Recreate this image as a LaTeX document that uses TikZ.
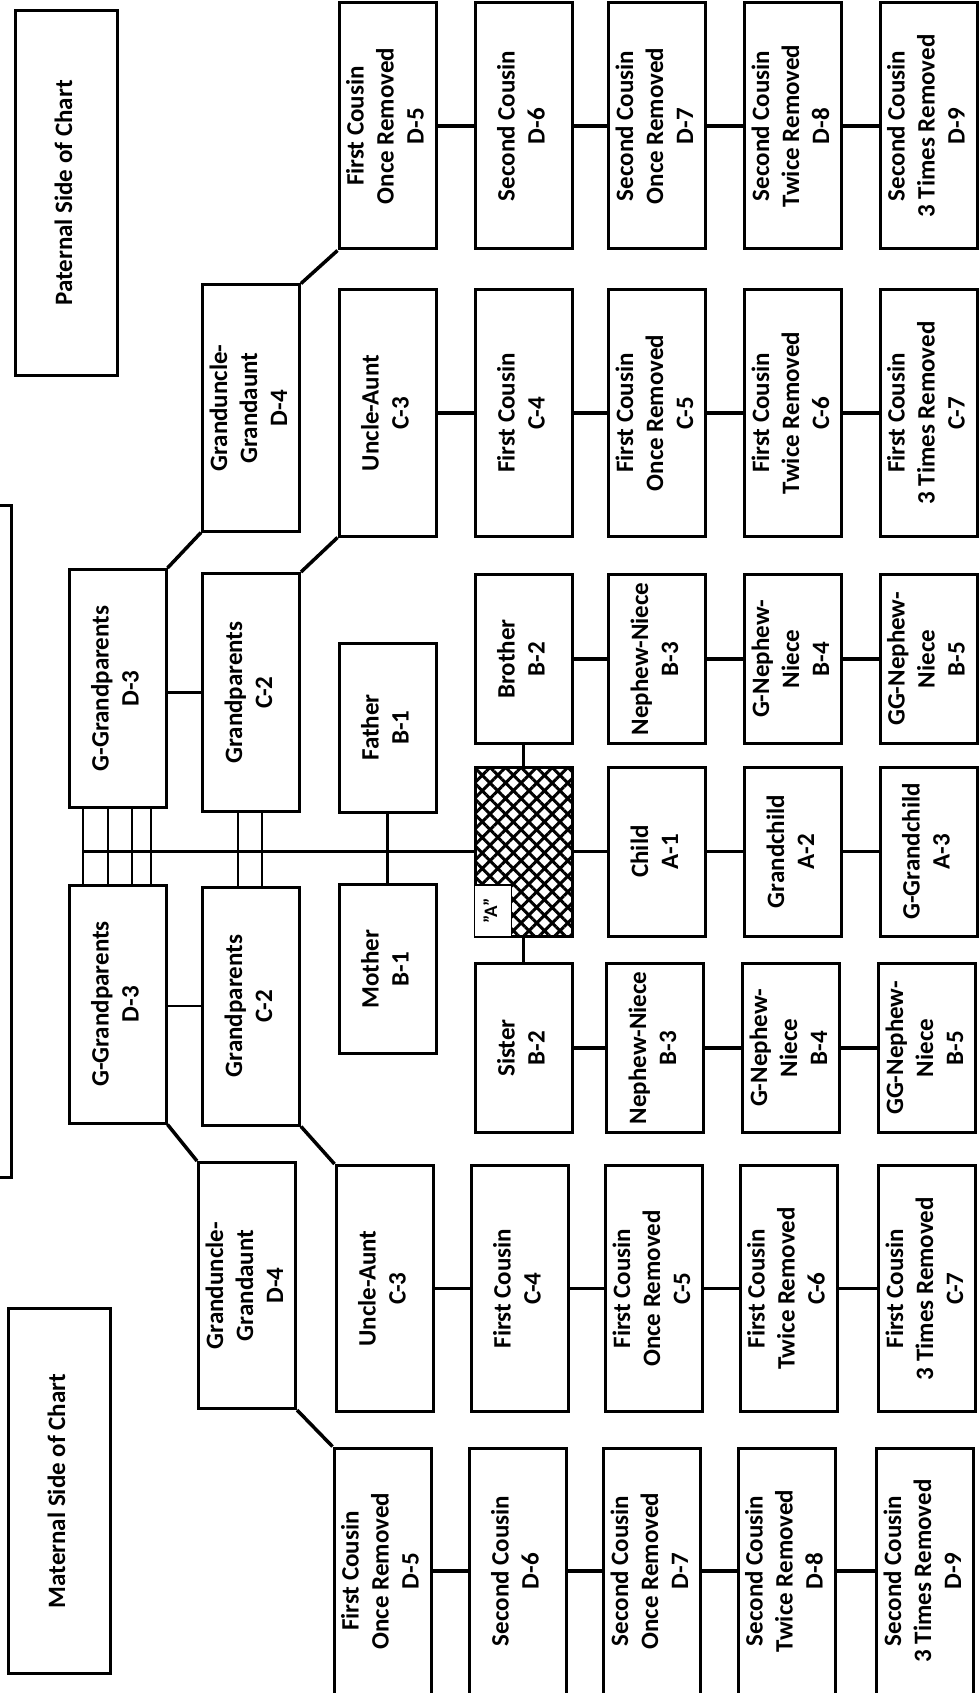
\documentclass[tikz,border=0pt]{standalone}
\usepackage{fontspec}
\setmainfont{Carlito}
\usepackage{graphicx}
\usetikzlibrary{patterns.meta}
\newcommand{\rotlabel}[1]{\rotatebox{90}{\begin{tabular}{@{}c@{}}#1\end{tabular}}}
\tikzset{
  kin/.style    ={rectangle, draw=black, line width=3pt, inner sep=0pt,
                  font=\fontsize{25}{30}\selectfont\bfseries},
  cuz/.style    ={kin, minimum width=97pt, minimum height=246pt},
  anc/.style    ={kin, minimum width=97pt, minimum height=238pt},
  sib/.style    ={kin, minimum width=97pt, minimum height=169pt},
  sidebox/.style={kin, minimum width=102pt, minimum height=365pt},
  tag/.style    ={rectangle, draw=black, line width=1.6pt, fill=white, inner sep=0pt,
                  minimum width=37pt, minimum height=52pt,
                  font=\fontsize{19}{22}\selectfont\bfseries},
  link/.style   ={line width=3.5pt},
  tie/.style    ={line width=2.5pt}
}

\begin{document}
\begin{tikzpicture}[x=1pt,y=-1pt]
  \useasboundingbox (0,0) rectangle (979,1693);
  % side labels
  \node[sidebox] (pat) at (66,193)  {\rotlabel{Paternal Side of Chart}};
  \node[sidebox] (mat) at (59,1491) {\rotlabel{Maternal Side of Chart}};
  \draw[line width=3pt] (0,505) -- (11,505) -- (11,1177) -- (0,1177);

  % paternal side
  \node[cuz] (d5p) at (387.5,126) {\rotlabel{First Cousin\\Once Removed\\D-5}};
  \node[cuz] (d6p) at (523.5,126) {\rotlabel{Second Cousin\\D-6}};
  \node[cuz] (d7p) at (657,126)   {\rotlabel{Second Cousin\\Once Removed\\D-7}};
  \node[cuz] (d8p) at (793,126)   {\rotlabel{Second Cousin\\Twice Removed\\D-8}};
  \node[cuz] (d9p) at (928.5,126) {\rotlabel{Second Cousin\\3 Times Removed\\D-9}};
  \node[cuz] (d4p) at (251,408)   {\rotlabel{Granduncle-\\Grandaunt\\D-4}};
  \node[cuz] (c3p) at (387.5,413) {\rotlabel{Uncle-Aunt\\C-3}};
  \node[cuz] (c4p) at (523.5,413) {\rotlabel{First Cousin\\C-4}};
  \node[cuz] (c5p) at (657,413)   {\rotlabel{First Cousin\\Once Removed\\C-5}};
  \node[cuz] (c6p) at (793,413)   {\rotlabel{First Cousin\\Twice Removed\\C-6}};
  \node[cuz] (c7p) at (928.5,413) {\rotlabel{First Cousin\\3 Times Removed\\C-7}};
  \node[anc] (d3p) at (117.5,688.5) {\rotlabel{G-Grandparents\\D-3}};
  \node[anc] (c2p) at (251,692.5)   {\rotlabel{Grandparents\\C-2}};
  \node[sib] (b1p) at (387.5,727.5) {\rotlabel{Father\\B-1}};
  \node[sib] (bro) at (523.5,659)   {\rotlabel{Brother\\B-2}};
  \node[sib] (b3p) at (657,659)     {\rotlabel{Nephew-Niece\\B-3}};
  \node[sib] (b4p) at (793,659)     {\rotlabel{G-Nephew-\\Niece\\B-4}};
  \node[sib] (b5p) at (928.5,659)   {\rotlabel{GG-Nephew-\\Niece\\B-5}};

  % self and descendants
  \node[sib, pattern={Hatch[angle=45,distance=11pt,line width=3pt]}] (self) at (523.5,851.5) {};
  \node[tag, anchor=south west] (tagA) at (self.south west) {\rotlabel{"A"}};
  \node[sib] (a1) at (657,851.5)   {\rotlabel{Child\\A-1}};
  \node[sib] (a2) at (793,851.5)   {\rotlabel{Grandchild\\A-2}};
  \node[sib] (a3) at (928.5,851.5) {\rotlabel{G-Grandchild\\A-3}};

  % maternal side
  \node[anc] (d3m) at (117.5,1004) {\rotlabel{G-Grandparents\\D-3}};
  \node[anc] (c2m) at (251,1006)   {\rotlabel{Grandparents\\C-2}};
  \node[sib] (b1m) at (387.5,969)  {\rotlabel{Mother\\B-1}};
  \node[sib] (sis) at (523.5,1048) {\rotlabel{Sister\\B-2}};
  \node[sib] (b3m) at (655,1048)   {\rotlabel{Nephew-Niece\\B-3}};
  \node[sib] (b4m) at (791,1048)   {\rotlabel{G-Nephew-\\Niece\\B-4}};
  \node[sib] (b5m) at (927,1048)   {\rotlabel{GG-Nephew-\\Niece\\B-5}};
  \node[cuz] (d4m) at (247,1285.5)   {\rotlabel{Granduncle-\\Grandaunt\\D-4}};
  \node[cuz] (c3m) at (384.5,1288.5) {\rotlabel{Uncle-Aunt\\C-3}};
  \node[cuz] (c4m) at (519.5,1288.5) {\rotlabel{First Cousin\\C-4}};
  \node[cuz] (c5m) at (654,1288.5)   {\rotlabel{First Cousin\\Once Removed\\C-5}};
  \node[cuz] (c6m) at (788.5,1288.5) {\rotlabel{First Cousin\\Twice Removed\\C-6}};
  \node[cuz] (c7m) at (927,1288.5)   {\rotlabel{First Cousin\\3 Times Removed\\C-7}};
  \node[cuz] (d5m) at (382.5,1571) {\rotlabel{First Cousin\\Once Removed\\D-5}};
  \node[cuz] (d6m) at (517.5,1571) {\rotlabel{Second Cousin\\D-6}};
  \node[cuz] (d7m) at (652,1571)   {\rotlabel{Second Cousin\\Once Removed\\D-7}};
  \node[cuz] (d8m) at (786.5,1571) {\rotlabel{Second Cousin\\Twice Removed\\D-8}};
  \node[cuz] (d9m) at (925,1571)   {\rotlabel{Second Cousin\\3 Times Removed\\D-9}};

  % rows
  \foreach \a/\b in {d5p/d6p,d6p/d7p,d7p/d8p,d8p/d9p,
                     c3p/c4p,c4p/c5p,c5p/c6p,c6p/c7p,
                     bro/b3p,b3p/b4p,b4p/b5p,
                     self/a1,a1/a2,a2/a3,
                     sis/b3m,b3m/b4m,b4m/b5m,
                     c3m/c4m,c4m/c5m,c5m/c6m,c6m/c7m,
                     d5m/d6m,d6m/d7m,d7m/d8m,d8m/d9m}
    \draw[link] (\a) -- (\b);
  \draw[tie] (bro) -- (self);
  \draw[tie] (self) -- (sis);

  % ancestors
  \draw[link] (d3p.north east) -- (d4p.south west);
  \draw[link] (d4p.north east) -- (d5p.south west);
  \draw[link] (c2p.north east) -- (c3p.south west);
  \draw[link] (d3m.south east) -- (d4m.north west);
  \draw[link] (d4m.south east) -- (d5m.north west);
  \draw[link] (c2m.south east) -- (c3m.north west);
  \draw[tie] (c2p.west) -- (c2p.west -| d3p.east);
  \draw[tie] (c2m.west) -- (c2m.west -| d3m.east);
  \foreach \dx in {-34.5,-9.5,14.5,33.5}
    \draw[tie] ([xshift=\dx pt]d3p.south) -- ([xshift=\dx pt]d3m.north);
  \foreach \dx in {-13,11}
    \draw[tie] ([xshift=\dx pt]c2p.south) -- ([xshift=\dx pt]c2m.north);
  \draw[tie] (b1p) -- (b1m);
  \coordinate (trunk) at (83,851.5);
  \draw[link] (trunk) -- (self);
\end{tikzpicture}
\end{document}
